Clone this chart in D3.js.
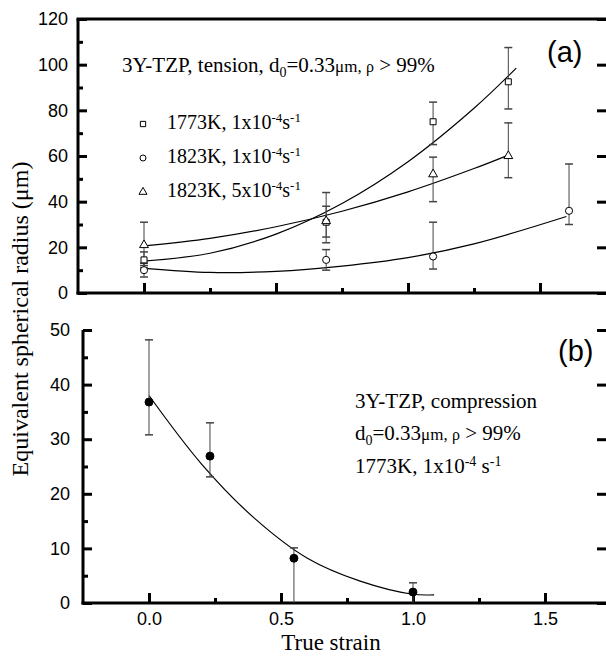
<!DOCTYPE html>
<html>
<head>
<meta charset="utf-8">
<script src="https://cdn.jsdelivr.net/npm/d3@7"></script>
<style>
body { margin: 0; background: #fff; }
svg { display: block; }
.tick text { font-family: "Liberation Sans", Arial, sans-serif; font-size: 18px; fill: #000; }
.tick line { stroke: #000; stroke-width: 3; }
.serif { font-family: "Liberation Serif", "Times New Roman", serif; fill: #000; }
</style>
</head>
<body>
<svg id="chart" width="606" height="656"></svg>
<script>
// ---- panel (a): tension ----
const seriesTemp = ["1773K", "1823K", "1823K"];
const seriesRate = ["1", "1", "5"];
const seriesSymbol = ["square", "circle", "triangle"];

const strainSq = [0, 0.69, 1.095, 1.38];
const radiusSq = [14.5, 31, 75, 92.5];
const lowSq = [12, 24.5, 65, 80.6];
const highSq = [18, 38, 83.6, 107.5];

const strainCi = [0, 0.69, 1.095, 1.61];
const radiusCi = [10, 14.5, 16, 36];
const lowCi = [7, 10, 10.5, 30];
const highCi = [13, 19, 31, 56.5];

const strainTr = [0, 0.69, 1.095, 1.38];
const radiusTr = [21, 31.5, 52, 60];
const lowTr = [11, 22, 40, 50.5];
const highTr = [31, 44, 59.5, 74.5];

// fitted curves
const fitSqX = [0, 0.25, 0.5, 0.75, 1.0, 1.25, 1.41];
const fitSqY = [14, 17.4, 25.8, 39.2, 57.5, 80.9, 98.5];
const fitCiX = [0, 0.25, 0.5, 0.75, 1.0, 1.25, 1.6];
const fitCiY = [10.8, 9.0, 9.5, 11.8, 15.5, 21.5, 33.5];
const fitTrX = [0, 0.25, 0.5, 0.75, 1.0, 1.25, 1.38];
const fitTrY = [20.6, 23.9, 29.0, 35.8, 44.3, 54.5, 60.4];

// ---- panel (b): compression ----
const strainB = [0, 0.231, 0.549, 1.0];
const radiusB = [36.8, 26.9, 8.2, 2.0];
const lowB = [30.8, 23.1, 0, 0];
const highB = [48.2, 33, 10.1, 3.7];
const fitBX = [0, 0.2, 0.4, 0.6, 0.8, 1.0, 1.08];
const fitBY = [38, 25.4, 15.5, 8.2, 4.0, 1.6, 1.5];

// ticks
const strainMajor = [0, 0.5, 1.0, 1.5];
const strainMinor = [0.25, 0.75, 1.25];
const yMajorA = [0, 20, 40, 60, 80, 100, 120];
const yMinorA = [10, 30, 50, 70, 90, 110];
const yMajorB = [0, 10, 20, 30, 40, 50];
const yMinorB = [5, 15, 25, 35, 45];

const svg = d3.select("#chart");

const xA = d3.scaleLinear().domain([-0.25, 1.75]).range([78, 606]);
const yA = d3.scaleLinear().domain([0, 120]).range([293, 19]);
const xB = d3.scaleLinear().domain([-0.25, 1.75]).range([83, 611]);
const yB = d3.scaleLinear().domain([0, 50]).range([603, 330]);

function drawAxes(x, y, yMaj, yMin, xLabels, pad) {
    const x0 = x.range()[0], y0 = y.range()[0];
    const g = svg.append("g");
    g.append("g").attr("transform", `translate(${x0},0)`)
        .call(d3.axisLeft(y).tickValues(yMin).tickSize(-5).tickFormat(""));
    g.append("g").attr("transform", `translate(${x0},0)`)
        .call(d3.axisLeft(y).tickValues(yMaj).tickSize(-9).tickPadding(pad));
    g.append("g").attr("transform", `translate(606,0)`)
        .call(d3.axisRight(y).tickValues(yMaj).tickSize(-9).tickFormat(""));
    g.append("g").attr("transform", `translate(0,${y0})`)
        .call(d3.axisBottom(x).tickValues(strainMinor).tickSize(-5).tickFormat(""));
    g.append("g").attr("transform", `translate(0,${y0})`)
        .call(d3.axisBottom(x).tickValues(strainMajor).tickSize(-10).tickPadding(9)
            .tickFormat(xLabels ? d3.format(".1f") : ""));
    g.selectAll(".domain").remove();
    // axis lines
    g.append("line").attr("x1", x0).attr("x2", x0)
        .attr("y1", y.range()[1]).attr("y2", y0 + 1.5)
        .attr("stroke", "#000").attr("stroke-width", 3);
    g.append("line").attr("x1", x0 - 1.5).attr("x2", 606)
        .attr("y1", y0).attr("y2", y0)
        .attr("stroke", "#000").attr("stroke-width", 3);
    return g;
}

drawAxes(xA, yA, yMajorA, yMinorA, false, 10);
drawAxes(xB, yB, yMajorB, yMinorB, true, 13);
// top frame of panel (a)
svg.append("line").attr("x1", 76.5).attr("x2", 606).attr("y1", 19).attr("y2", 19)
    .attr("stroke", "#000").attr("stroke-width", 3);

const line = (x, y) => d3.line().x(d => x(d[0])).y(d => y(d[1])).curve(d3.curveCatmullRom);

function drawFit(x, y, xs, ys) {
    svg.append("path").datum(d3.zip(xs, ys))
        .attr("d", line(x, y))
        .attr("fill", "none").attr("stroke", "#000").attr("stroke-width", 1.2);
}

function drawErrors(x, y, xs, lo, hi) {
    const g = svg.append("g").attr("stroke", "#444").attr("stroke-width", 1);
    xs.forEach((v, i) => {
        const cx = x(v);
        g.append("line").attr("x1", cx).attr("x2", cx).attr("y1", y(lo[i])).attr("y2", y(hi[i]));
        g.append("line").attr("x1", cx - 4).attr("x2", cx + 4).attr("y1", y(hi[i])).attr("y2", y(hi[i]))
            .attr("stroke-width", 1.5);
        if (lo[i] > 0)
            g.append("line").attr("x1", cx - 4).attr("x2", cx + 4).attr("y1", y(lo[i])).attr("y2", y(lo[i]))
                .attr("stroke-width", 1.5);
    });
}

const symbolType = { square: d3.symbolSquare, circle: d3.symbolCircle, triangle: d3.symbolTriangle };
const symbolSize = { square: 36, circle: 40, triangle: 34 };

function drawMarks(x, y, xs, ys, kind, filled) {
    svg.append("g").selectAll("path")
        .data(d3.zip(xs, ys))
        .enter().append("path")
        .attr("transform", d => `translate(${x(d[0])},${y(d[1])})`)
        .attr("d", d3.symbol().type(symbolType[kind]).size(filled ? 50 : symbolSize[kind]))
        .attr("fill", filled ? "#000" : "#fff")
        .attr("stroke", "#000").attr("stroke-width", 1);
}

// panel (a) marks
drawFit(xA, yA, fitSqX, fitSqY);
drawFit(xA, yA, fitCiX, fitCiY);
drawFit(xA, yA, fitTrX, fitTrY);
drawErrors(xA, yA, strainTr, lowTr, highTr);
drawErrors(xA, yA, strainSq, lowSq, highSq);
drawErrors(xA, yA, strainCi, lowCi, highCi);
drawMarks(xA, yA, strainSq, radiusSq, "square");
drawMarks(xA, yA, strainCi, radiusCi, "circle");
drawMarks(xA, yA, strainTr, radiusTr, "triangle");

// panel (b) marks
drawFit(xB, yB, fitBX, fitBY);
drawErrors(xB, yB, strainB, lowB, highB);
drawMarks(xB, yB, strainB, radiusB, "circle", true);

// panel (a) annotation
const tA = svg.append("text").attr("class", "serif").attr("x", 122).attr("y", 72).style("font-size", "21px");
tA.append("tspan").text("3Y-TZP, tension, d");
tA.append("tspan").attr("dy", 5).style("font-size", "14px").text("0");
tA.append("tspan").attr("dy", -5).text("=0.33");
tA.append("tspan").style("font-size", "17px").text("μm, ");
tA.append("tspan").style("font-size", "16px").text("ρ");
tA.append("tspan").text(" > 99%");

// legend
const legendY = [125, 159, 193];
seriesTemp.forEach((t, i) => {
    svg.append("path")
        .attr("transform", `translate(143,${legendY[i] - 1})`)
        .attr("d", d3.symbol().type(symbolType[seriesSymbol[i]]).size(28))
        .attr("fill", "#fff").attr("stroke", "#000").attr("stroke-width", 1);
    const tx = svg.append("text").attr("class", "serif").attr("x", 167).attr("y", legendY[i] + 4)
        .style("font-size", "20px");
    tx.append("tspan").text(`${t}, ${seriesRate[i]}x10`);
    tx.append("tspan").attr("dy", -7).style("font-size", "13px").text("-4");
    tx.append("tspan").attr("dy", 7).text("s");
    tx.append("tspan").attr("dy", -7).style("font-size", "13px").text("-1");
});

// panel (b) annotation
svg.append("text").attr("class", "serif").attr("x", 355).attr("y", 408).style("font-size", "21px")
    .text("3Y-TZP, compression");
const b2 = svg.append("text").attr("class", "serif").attr("x", 355).attr("y", 440).style("font-size", "21px");
b2.append("tspan").text("d");
b2.append("tspan").attr("dy", 5).style("font-size", "14px").text("0");
b2.append("tspan").attr("dy", -5).text("=0.33");
b2.append("tspan").style("font-size", "17px").text("μm, ");
b2.append("tspan").style("font-size", "16px").text("ρ");
b2.append("tspan").text(" > 99%");
const b3 = svg.append("text").attr("class", "serif").attr("x", 355).attr("y", 473).style("font-size", "21px");
b3.append("tspan").text("1773K, 1x10");
b3.append("tspan").attr("dy", -7).style("font-size", "14px").text("-4");
b3.append("tspan").attr("dy", 7).text(" s");
b3.append("tspan").attr("dy", -7).style("font-size", "14px").text("-1");

// panel labels
svg.append("text").attr("x", 547).attr("y", 62)
    .style("font-family", "Liberation Sans, Arial, sans-serif").style("font-size", "29px").text("(a)");
svg.append("text").attr("x", 558).attr("y", 361)
    .style("font-family", "Liberation Sans, Arial, sans-serif").style("font-size", "29px").text("(b)");

// axis titles
svg.append("text").attr("class", "serif")
    .attr("transform", "translate(28,319) rotate(-90)")
    .attr("text-anchor", "middle").style("font-size", "24px")
    .text("Equivalent spherical radius (μm)");
svg.append("text").attr("class", "serif")
    .attr("x", 331).attr("y", 650)
    .attr("text-anchor", "middle").style("font-size", "23px")
    .text("True strain");
</script>
</body>
</html>
